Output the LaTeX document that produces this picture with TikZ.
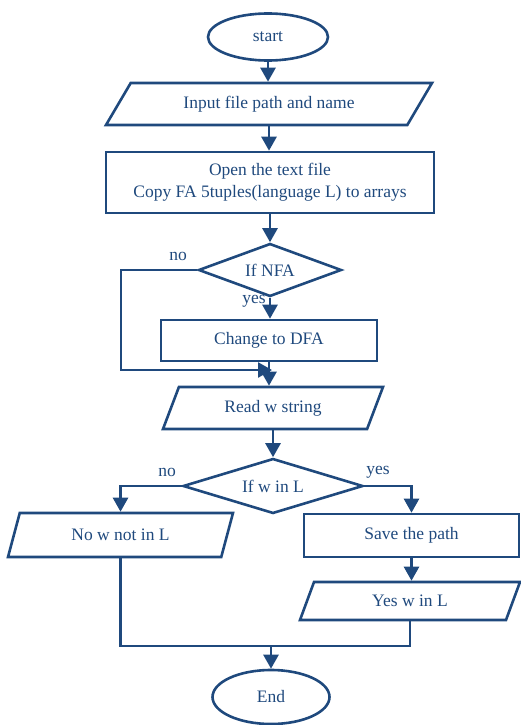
\documentclass[tikz,border=0pt]{standalone}
\usepackage{fontspec}
\setmainfont{Liberation Serif}
\usetikzlibrary{shapes.geometric,arrows.meta}
\definecolor{fblue}{RGB}{31,73,125}

\begin{document}
\begin{tikzpicture}[x=1pt,y=1pt]
    \tikzstyle{T}=[ellipse,draw=fblue,line width=2.6pt,inner sep=0pt,text=fblue,font=\fontsize{17.5}{21}\selectfont]
    \tikzstyle{IO}=[trapezium,trapezium stretches body,draw=fblue,line width=2.6pt,inner sep=0pt,text=fblue,font=\fontsize{17.5}{21}\selectfont]
    \tikzstyle{P}=[rectangle,draw=fblue,line width=2.6pt,inner sep=0pt,text=fblue,align=center,font=\fontsize{17.5}{22}\selectfont]
    \tikzstyle{D}=[diamond,aspect=2.7,draw=fblue,line width=2.6pt,inner sep=0pt,text=fblue,font=\fontsize{17.5}{21}\selectfont]
    \tikzstyle{A}=[-{Triangle[width=15pt,length=14pt]},line width=2.6pt,draw=fblue]
    \tikzstyle{lbl}=[text=fblue,inner sep=0pt,font=\fontsize{17.5}{21}\selectfont]

    \useasboundingbox (0,0) rectangle (520,-725);

    % Boxes
    \node [T,minimum width=120pt,minimum height=47pt] (start) at (268,-37) {start};
    \node [IO,minimum width=326pt,minimum height=42pt,trapezium left angle=33,trapezium right angle=147] (input) at (269,-104) {Input file path and name};
    \node [P,minimum width=328pt,minimum height=61pt] (open) at (270,-182.5) {Open the text file\\Copy FA 5tuples(language L) to arrays};
    \node [D,minimum width=143pt,minimum height=53pt] (nfa) at (270,-270) {If NFA};
    \node [P,minimum width=216pt,minimum height=41pt] (dfa) at (269,-340.5) {Change to DFA};
    \node [IO,minimum width=220pt,minimum height=42pt,trapezium left angle=45,trapezium right angle=135] (read) at (273,-408) {Read w string};
    \node [D,minimum width=180pt,minimum height=55pt] (inl) at (273,-486) {If w in L};
    \node [IO,minimum width=225pt,minimum height=44pt,trapezium left angle=45,trapezium right angle=135] (notin) at (120.5,-535) {No w not in L};
    \node [P,minimum width=215pt,minimum height=43pt] (save) at (411.5,-535.5) {Save the path};
    \node [IO,minimum width=220pt,minimum height=38pt,trapezium left angle=40,trapezium right angle=140] (yesin) at (410,-601) {Yes w in L};
    \node [T,minimum width=117pt,minimum height=54pt] (end) at (271,-697) {End};

    % Labels
    \node [lbl] (nonfa) at (178,-256) {no};
    \node [lbl] (yesnfa) at (254,-301) {yes};
    \node [lbl] (noinl) at (167,-472) {no};
    \node [lbl] (yesinl) at (378,-472) {yes};

    \coordinate (loop) at (121,-370);
    \coordinate (join) at (272,-370);
    \coordinate (merge) at (271,-646);

    % Arrows
    \draw [A] (start.south) -- (start.south |- input.north);
    \draw [A] (input.south) -- (input.south |- open.north);
    \draw [A] (open.south) -- (open.south |- nfa.north);
    \draw [A] (nfa.south) -- (nfa.south |- dfa.north);
    \draw [A] (dfa.south) -- (dfa.south |- read.north);
    \draw [A] (nfa.west) -| (loop) -- (join);
    \draw [A] (read.south) -- (read.south |- inl.north);
    \draw [A] (inl.west) -| (notin.north);
    \draw [A] (inl.east) -| (save.north);
    \draw [A] (save.south) -- (save.south |- yesin.north);
    \draw [line width=2.6pt,draw=fblue] (notin.south) |- (merge) -| (yesin.south);
    \draw [A] (merge) -- (end.north);
\end{tikzpicture}
\end{document}
